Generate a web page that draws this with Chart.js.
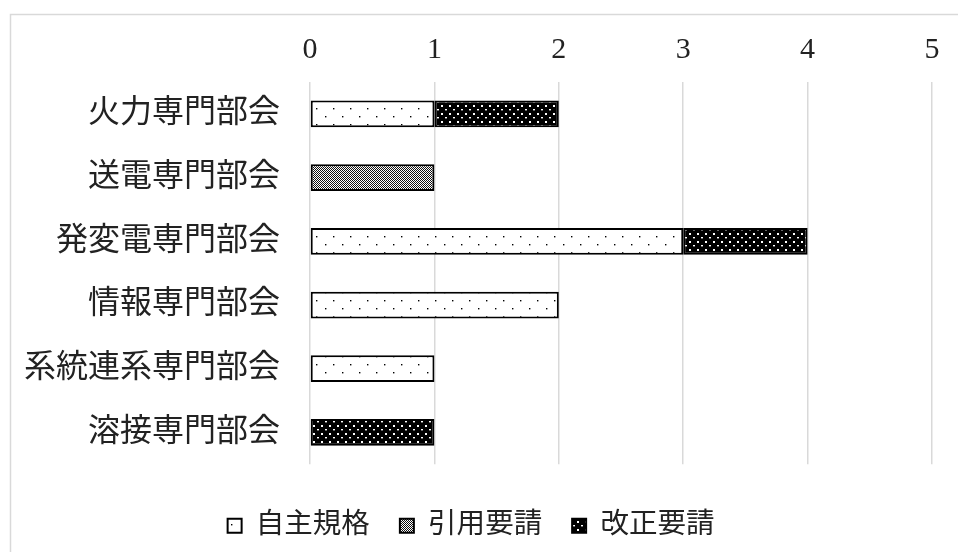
<!DOCTYPE html>
<html>
<head>
<meta charset="utf-8">
<style>
  html, body { margin: 0; padding: 0; background: #fff; overflow: hidden; }
  #box { width: 958px; height: 552px; }
</style>
</head>
<body>
<div id="box"><canvas id="myChart" width="958" height="552"></canvas></div>

<script src="https://cdn.jsdelivr.net/npm/chart.js/dist/chart.umd.min.js"></script>
<script>
// data
const categories = ['火力専門部会', '送電専門部会', '発変電専門部会', '情報専門部会', '系統連系専門部会', '溶接専門部会'];
const seriesNames = ['自主規格', '引用要請', '改正要請'];
const jishu   = [1, 0, 3, 2, 1, 0];
const inyou   = [0, 1, 0, 0, 0, 0];
const kaisei  = [1, 0, 1, 0, 0, 1];
const xTicks  = [0, 1, 2, 3, 4, 5];

const FONT = "'Liberation Serif', 'Noto Sans CJK JP', serif";

// hatch patterns like the excel fills
function makePattern(w, h, bg, fg, dots) {
  const c = document.createElement('canvas');
  c.width = w; c.height = h;
  const g = c.getContext('2d');
  g.fillStyle = bg;
  g.fillRect(0, 0, w, h);
  g.fillStyle = fg;
  dots.forEach(d => g.fillRect(d[0], d[1], d[2] || 1, d[3] || 1));
  return g.createPattern(c, 'repeat');
}

const sparseDots = makePattern(17, 16, '#ffffff', '#000000', [[2, 4, 1.4, 1.4], [10, 12, 1.4, 1.4]]);
const checker = makePattern(4, 4, '#ffffff', '#111111', [
  [0, 0], [2, 0], [1, 1], [3, 1], [0, 2], [2, 2], [1, 3], [3, 3]
]);
const blackDots = makePattern(8, 8, '#000000', '#ffffff', [[1, 1, 2, 2], [5, 5, 2, 1.4]]);

const frame = {
  id: 'frame',
  beforeDraw(chart) {
    const ctx = chart.ctx;
    ctx.save();
    ctx.strokeStyle = '#d9d9d9';
    ctx.lineWidth = 1.5;
    ctx.beginPath();
    ctx.moveTo(10.5, 560);
    ctx.lineTo(10.5, 14.5);
    ctx.lineTo(970, 14.5);
    ctx.stroke();
    ctx.restore();
  }
};

const ds = (label, values, fill) => ({
  label,
  data: values,
  backgroundColor: fill,
  borderColor: '#000',
  borderWidth: 2,
  borderSkipped: false,
  barPercentage: 0.42,
  categoryPercentage: 1
});

const config = {
  type: 'bar',
  data: {
    labels: categories,
    datasets: [
      ds(seriesNames[0], jishu, sparseDots),
      ds(seriesNames[1], inyou, checker),
      ds(seriesNames[2], kaisei, blackDots)
    ]
  },
  options: {
    indexAxis: 'y',
    responsive: false,
    animation: false,
    layout: { padding: { left: 10, right: 26, top: 14, bottom: 2 } },
    scales: {
      x: {
        position: 'top',
        stacked: true,
        min: 0,
        max: 5,
        afterBuildTicks: s => { s.ticks = xTicks.map(v => ({ value: v })); },
        grid: { color: '#d9d9d9', lineWidth: 1.5, drawTicks: false },
        border: { display: false },
        ticks: { color: '#222', font: { family: FONT, size: 30 }, padding: 14 },
        afterFit: s => { s.height = 68; }
      },
      y: {
        stacked: true,
        grid: { display: false },
        border: { display: false },
        ticks: { color: '#222', font: { family: FONT, size: 32 }, padding: 22 },
        afterFit: s => { s.width = 300; }
      }
    },
    plugins: {
      tooltip: { enabled: false },
      legend: {
        position: 'bottom',
        title: { display: true, text: '', font: { size: 1 }, padding: { top: 11, bottom: 5 } },
        labels: {
          color: '#222',
          font: { family: FONT, size: 28.5 },
          boxWidth: 14,
          boxHeight: 14,
          padding: 30
        }
      }
    }
  },
  plugins: [frame]
};

const myChart = new Chart(document.getElementById('myChart'), config);
</script>
</body>
</html>
